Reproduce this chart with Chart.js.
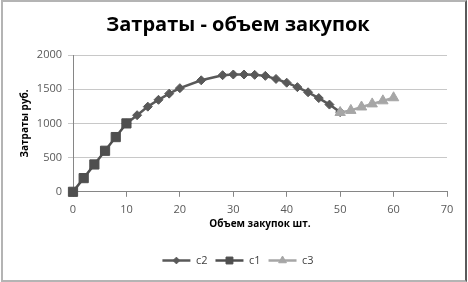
<!DOCTYPE html>
<html>
<head>
<meta charset="utf-8">
<script src="https://cdn.jsdelivr.net/npm/chart.js@4.4.1/dist/chart.umd.min.js"></script>
<style>
html,body{margin:0;padding:0;background:#fff;}
#wrap{position:relative;width:468px;height:282px;}
#c{position:absolute;left:0;top:0;}
#frame{position:absolute;left:1px;top:0px;width:462px;height:278px;border:2px solid #b4b4b4;border-right-color:#5a5a5a;pointer-events:none;}
</style>
</head>
<body>
<div id="wrap"><canvas id="c" width="468" height="282"></canvas><div id="frame"></div></div>
<script>
const titleText = "Затраты - объем закупок";
const xTitle = "Объем закупок шт.";
const yTitle = "Затраты руб.";
const seriesNames = ["c2", "c1", "c3"];

const xC2 = [10,12,14,16,18,20,24,28,30,32,34,36,38,40,42,44,46,48,50];
const yC2 = [1000,1120,1245,1345,1435,1515,1630,1705,1715,1715,1710,1695,1650,1595,1530,1455,1370,1275,1165];
const xC1 = [0,2,4,6,8,10];
const yC1 = [0,200,400,600,800,1000];
const xC3 = [50,52,54,56,58,60];
const yC3 = [1160,1190,1240,1285,1330,1375];

const xTicks = [0,10,20,30,40,50,60,70];
const yTicks = [0,500,1000,1500,2000];

const pts = (xs, ys) => xs.map((x, i) => ({x: x, y: ys[i]}));

const FONT = "'Open Sans', sans-serif";
const styles = [
  {color:'#595959', pointStyle:'rectRot', radius:4.5},
  {color:'#4f4f4f', pointStyle:'rect', radius:6.5},
  {color:'#a6a6a6', pointStyle:'triangle', radius:6}
];

const legendLines = {
  id: 'legendLines',
  afterDraw(chart) {
    const lg = chart.legend;
    if (!lg || !lg.legendHitBoxes) return;
    const ctx = chart.ctx;
    const fs = 11;
    lg.legendHitBoxes.forEach((hb, i) => {
      const st = styles[lg.legendItems[i].datasetIndex];
      const cy = hb.top + fs / 2;
      const bw = 28;
      ctx.save();
      ctx.strokeStyle = st.color;
      ctx.lineWidth = 2.5;
      ctx.beginPath();
      ctx.moveTo(hb.left, cy);
      ctx.lineTo(hb.left + bw, cy);
      ctx.stroke();
      ctx.fillStyle = st.color;
      ctx.strokeStyle = st.color;
      ctx.lineWidth = 1;
      Chart.helpers.drawPoint(ctx, {pointStyle: st.pointStyle, radius: st.radius * 0.75, borderWidth: 1, rotation: 0}, hb.left + bw / 2, cy);
      ctx.restore();
    });
  }
};

const ds = [[xC2, yC2], [xC1, yC1], [xC3, yC3]].map((d, i) => ({
  label: seriesNames[i],
  data: pts(d[0], d[1]),
  showLine: true,
  clip: false,
  borderColor: styles[i].color,
  backgroundColor: styles[i].color,
  pointBackgroundColor: styles[i].color,
  pointBorderColor: styles[i].color,
  borderWidth: 2.5,
  pointStyle: styles[i].pointStyle,
  pointRadius: styles[i].radius,
  pointBorderWidth: 1,
  order: [3, 1, 2][i]
}));

new Chart(document.getElementById('c'), {
  type: 'scatter',
  data: {datasets: ds},
  plugins: [legendLines],
  options: {
    responsive: false,
    animation: false,
    devicePixelRatio: 1,
    layout: {padding: {left: 29, right: 21, top: 0, bottom: 6}},
    plugins: {
      tooltip: {enabled: false},
      title: {
        display: true,
        text: titleText,
        color: '#000',
        font: {family: FONT, size: 20, weight: 'bold'},
        padding: {top: 13, bottom: 18}
      },
      legend: {
        position: 'bottom',
        labels: {
          usePointStyle: true,
          pointStyleWidth: 28,
          boxHeight: 11,
          color: '#404040',
          font: {family: FONT, size: 11},
          padding: 8,
          sort: (a, b) => a.datasetIndex - b.datasetIndex,
          generateLabels: (chart) => chart.data.datasets.map((d, i) => ({
            text: d.label, datasetIndex: i, fillStyle: 'rgba(0,0,0,0)', strokeStyle: 'rgba(0,0,0,0)',
            lineWidth: 0, pointStyle: 'rect', hidden: false, fontColor: '#404040'
          }))
        }
      }
    },
    scales: {
      x: {
        type: 'linear',
        min: 0, max: 70,
        afterBuildTicks: (s) => { s.ticks = xTicks.map(v => ({value: v})); },
        ticks: {color: '#595959', font: {family: FONT, size: 11}, padding: 6, maxRotation: 0, callback: (v) => String(v)},
        grid: {display: true, drawOnChartArea: false, drawTicks: true, tickLength: 5, color: '#868686'},
        border: {display: true, color: '#868686', width: 1},
        title: {display: true, text: xTitle, color: '#000', font: {family: FONT, size: 10, weight: 'bold'}, padding: {top: -4, bottom: 17}}
      },
      y: {
        type: 'linear',
        min: 0, max: 2000,
        afterBuildTicks: (s) => { s.ticks = yTicks.map(v => ({value: v})); },
        afterFit: (s) => { s.width = 44; },
        ticks: {color: '#595959', font: {family: FONT, size: 11}, padding: 6, callback: (v) => String(v)},
        grid: {color: '#c8c8c8', tickLength: 5, drawTicks: true},
        border: {display: true, color: '#868686', width: 1},
        title: {display: true, text: yTitle, color: '#000', font: {family: FONT, size: 10, weight: 'bold'}, padding: {top: -10, bottom: 0}}
      }
    }
  }
});
</script>
</body>
</html>
